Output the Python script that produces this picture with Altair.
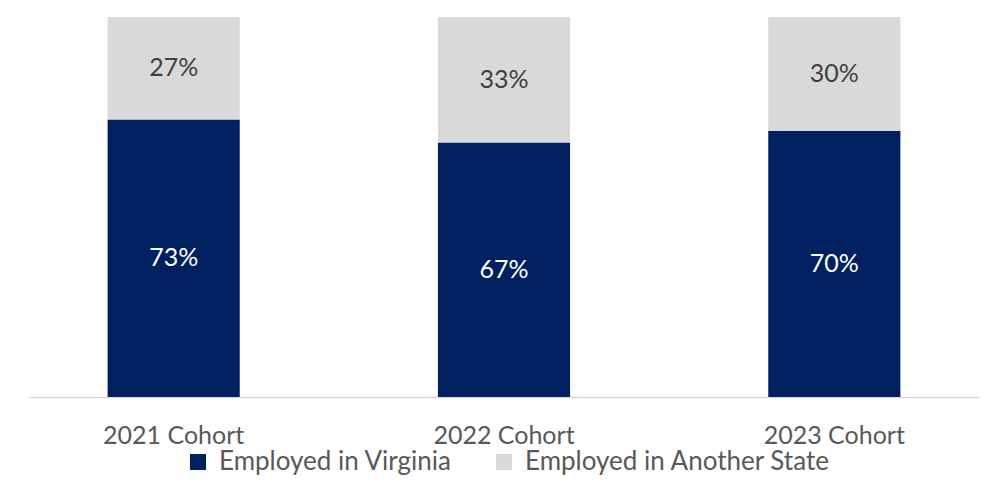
import altair as alt
import pandas as pd

cohorts = ["2021 Cohort", "2022 Cohort", "2023 Cohort"]
series = ["Employed in Virginia", "Employed in Another State"]
virginia = [73, 67, 70]
another = [27, 33, 30]
colors = ["#002060", "#D9D9D9"]
label_colors = ["#FFFFFF", "#404040"]

rows = []
for i, c in enumerate(cohorts):
    rows.append({"cohort": c, "series": series[0], "value": virginia[i], "ord": 0})
    rows.append({"cohort": c, "series": series[1], "value": another[i], "ord": 1})
df = pd.DataFrame(rows)

FONT = "Lato"
FS = 25

base = alt.Chart(df).transform_stack(
    stack="value", groupby=["cohort"], as_=["v0", "v1"],
    sort=[alt.SortField("ord", order="ascending")]
).transform_calculate(
    mid="(datum.v0 + datum.v1) / 2",
    label="datum.value + '%'"
)

xscale = alt.Scale(paddingInner=0.6, paddingOuter=0.238)
xenc = alt.X("cohort:N", sort=cohorts, scale=xscale,
             axis=alt.Axis(title=None, labelAngle=0, ticks=False, labelPadding=26,
                           labelFontSize=FS, labelFont=FONT, labelColor="#595959",
                           domainColor="#D9D9D9", domainWidth=1.5, grid=False))
yscale = alt.Scale(domain=[0, 100], nice=False, zero=True)

bars = base.mark_bar().encode(
    x=xenc,
    y=alt.Y("v0:Q", scale=yscale, axis=None),
    y2="v1:Q",
    color=alt.Color("series:N", sort=series,
                    scale=alt.Scale(domain=series, range=colors),
                    legend=alt.Legend(title=None, orient="none", direction="horizontal",
                                      legendX=156, legendY=432,
                                      symbolType="square", symbolSize=256,
                                      symbolStrokeWidth=0, labelFontSize=26,
                                      labelFont=FONT, labelColor="#595959",
                                      labelLimit=0, labelOffset=8, columnPadding=39)),
)

text = base.mark_text(fontSize=FS, font=FONT).encode(
    x=alt.X("cohort:N", sort=cohorts, scale=xscale),
    y=alt.Y("mid:Q", scale=yscale, axis=None),
    text="label:N",
    color=alt.Color("series:N", scale=alt.Scale(domain=series, range=label_colors), legend=None),
)

chart = alt.layer(bars, text).resolve_scale(color="independent").properties(
    width=950, height=380,
    background="#FFFFFF",
    autosize=alt.AutoSizeParams(type="none"),
    padding={"left": 21, "top": 9, "right": 1, "bottom": 79},
).configure_view(stroke="transparent", strokeWidth=0)

chart.save("out.html", embed_options={"renderer": "svg", "actions": False})
